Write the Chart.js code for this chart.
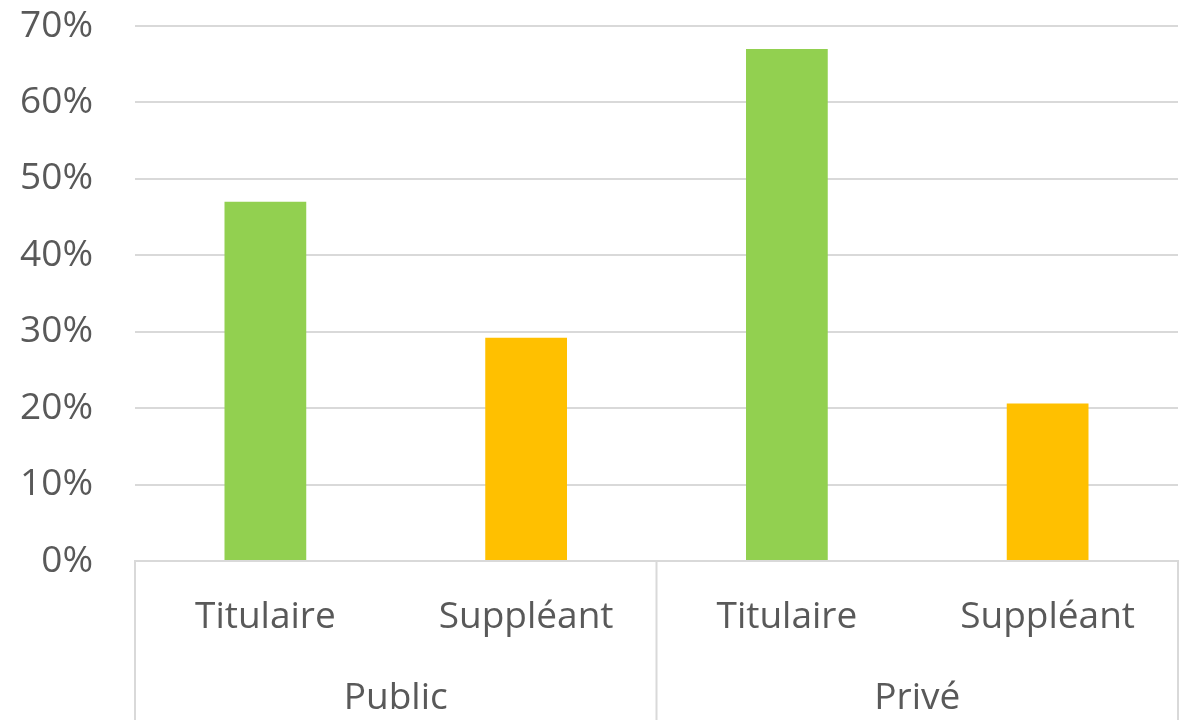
<!DOCTYPE html>
<html>
<head>
<meta charset="utf-8">
<script src="https://cdn.jsdelivr.net/npm/chart.js@4/dist/chart.umd.min.js"></script>
<style>
  html, body { margin: 0; padding: 0; background: #ffffff; }
  #wrap { width: 1188px; height: 720px; }
</style>
</head>
<body>
<div id="wrap"><canvas id="c" width="1188" height="720"></canvas></div>
<script>
const categories = ["Titulaire", "Suppléant", "Titulaire", "Suppléant"];
const groups = ["Public", "Privé"];
const values = [0.47, 0.292, 0.67, 0.206];
const barColors = ["#92d050", "#ffc000", "#92d050", "#ffc000"];
const yTicks = [0, 0.1, 0.2, 0.3, 0.4, 0.5, 0.6, 0.7];

const FONT = "'Open Sans', 'Noto Sans', sans-serif";
const TEXT = "#595959";
const LINE = "#d9d9d9";

const separators = {
  id: "separators",
  afterDraw(chart) {
    const x = chart.scales.x;
    const ctx = chart.ctx;
    const n = categories.length;
    const half = n / 2;
    const bounds = [x.left, (x.getPixelForValue(half - 1) + x.getPixelForValue(half)) / 2, x.right];
    ctx.save();
    ctx.strokeStyle = LINE;
    ctx.lineWidth = 2;
    bounds.forEach(b => {
      ctx.beginPath();
      ctx.moveTo(b, chart.chartArea.bottom);
      ctx.lineTo(b, chart.height);
      ctx.stroke();
    });
    ctx.restore();
  }
};

new Chart(document.getElementById("c"), {
  type: "bar",
  data: {
    labels: categories,
    datasets: [{
      data: values,
      backgroundColor: barColors,
      borderWidth: 0,
      barPercentage: 0.3135,
      categoryPercentage: 1.0
    }]
  },
  options: {
    responsive: false,
    devicePixelRatio: 1,
    animation: false,
    layout: { padding: { top: 26, right: 10, left: 0, bottom: 0 } },
    plugins: { legend: { display: false }, tooltip: { enabled: false } },
    scales: {
      y: {
        min: 0,
        max: 0.7,
        afterBuildTicks(scale) { scale.ticks = yTicks.map(v => ({ value: v })); },
        afterFit(scale) { scale.width = 135; scale.paddingTop = 0; scale.paddingBottom = 0; },
        ticks: {
          color: TEXT,
          font: { family: FONT, size: 37 },
          padding: 42,
          callback: v => Math.round(v * 100) + "%"
        },
        grid: { color: LINE, lineWidth: 2, drawTicks: false },
        border: { display: false }
      },
      x: {
        position: "bottom",
        afterFit(scale) { scale.height = 94; },
        ticks: { color: TEXT, font: { family: FONT, size: 37 }, padding: 26, maxRotation: 0, autoSkip: false },
        grid: { display: false },
        border: { display: true, color: LINE, width: 2 }
      },
      x2: {
        type: "category",
        position: "bottom",
        labels: groups,
        afterFit(scale) { scale.height = 65; },
        ticks: { color: TEXT, font: { family: FONT, size: 37 }, padding: 13, maxRotation: 0, autoSkip: false },
        grid: { display: false },
        border: { display: false }
      }
    }
  },
  plugins: [separators]
});
</script>
</body>
</html>
